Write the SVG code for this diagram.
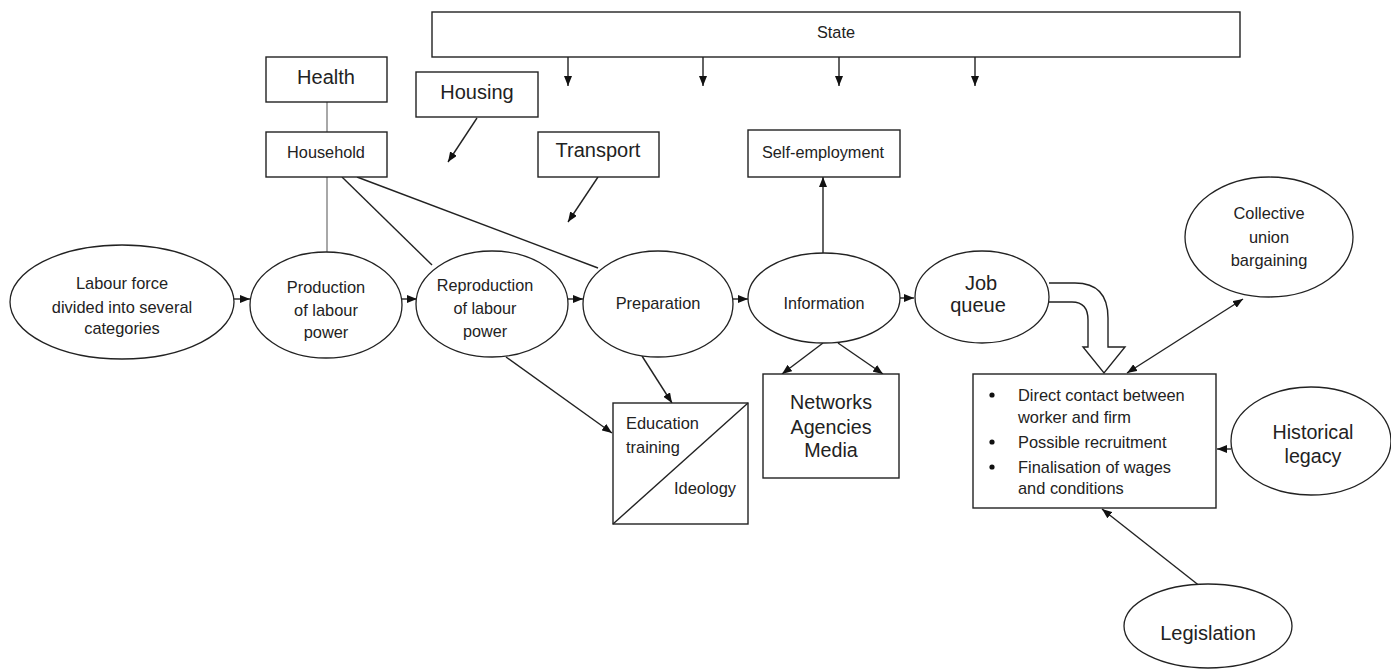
<svg xmlns="http://www.w3.org/2000/svg" width="1391" height="670" viewBox="0 0 1391 670">
<style>
  .box { fill: #fff; stroke: #222; stroke-width: 1.4; }
  .ell { fill: #fff; stroke: #222; stroke-width: 1.3; }
  .ln { stroke: #222; stroke-width: 1.4; fill: none; }
  .gray { stroke: #a8a8a8; stroke-width: 2; fill: none; }
  text { font-family: "Liberation Sans", Arial, sans-serif; fill: #222; }
  .c { text-anchor: middle; }
</style>
<defs>
  <marker id="arr" markerWidth="10" markerHeight="8" refX="10" refY="4" orient="auto" markerUnits="userSpaceOnUse">
    <path d="M0,0 L10,4 L0,8 z" fill="#111"/>
  </marker>
  <marker id="arrS" markerWidth="10" markerHeight="8" refX="0" refY="4" orient="auto" markerUnits="userSpaceOnUse">
    <path d="M10,0 L0,4 L10,8 z" fill="#111"/>
  </marker>
</defs>

<g id="connectors">
  <!-- State arrows -->
  <line class="ln" x1="568" y1="57" x2="568" y2="86" marker-end="url(#arr)"/>
  <line class="ln" x1="703" y1="57" x2="703" y2="86" marker-end="url(#arr)"/>
  <line class="ln" x1="839" y1="57" x2="839" y2="86" marker-end="url(#arr)"/>
  <line class="ln" x1="975" y1="57" x2="975" y2="86" marker-end="url(#arr)"/>
  <!-- Health - Household - Production -->
  <line class="gray" x1="327" y1="102" x2="327" y2="132"/>
  <line class="gray" x1="327" y1="177" x2="327" y2="252"/>
  <!-- Household to Reproduction and Preparation -->
  <line class="ln" x1="342" y1="177" x2="432" y2="265"/>
  <line class="ln" x1="357" y1="177" x2="598" y2="268"/>
  <!-- Housing / Transport arrows -->
  <line class="ln" x1="477" y1="118" x2="448" y2="162" marker-end="url(#arr)"/>
  <line class="ln" x1="598" y1="177" x2="568" y2="222" marker-end="url(#arr)"/>
  <!-- Main row -->
  <line class="ln" x1="234" y1="299" x2="250" y2="299" marker-end="url(#arr)"/>
  <line class="ln" x1="402" y1="299" x2="417" y2="299" marker-end="url(#arr)"/>
  <line class="ln" x1="568" y1="299" x2="583" y2="299" marker-end="url(#arr)"/>
  <line class="ln" x1="733" y1="299" x2="748" y2="299" marker-end="url(#arr)"/>
  <line class="ln" x1="900" y1="298" x2="914" y2="298" marker-end="url(#arr)"/>
  <!-- Information to Self-employment -->
  <line class="ln" x1="823" y1="253" x2="823" y2="177" marker-end="url(#arr)"/>
  <!-- Information to Networks -->
  <line class="ln" x1="823" y1="343" x2="782" y2="374" marker-end="url(#arr)"/>
  <line class="ln" x1="838" y1="343" x2="883" y2="374" marker-end="url(#arr)"/>
  <!-- To Education -->
  <line class="ln" x1="642" y1="356" x2="672" y2="403" marker-end="url(#arr)"/>
  <line class="ln" x1="506" y1="357" x2="612" y2="433" marker-end="url(#arr)"/>
  <!-- Hollow arrow from Job queue -->
  <path class="ln" fill="#fff" d="M1049,283 L1075,283 Q1108,283 1108,318 L1108,347 L1125,347 L1104,373 L1083,347 L1088,347 L1088,320 Q1088,302 1072,302 L1049,302"/>
  <!-- Collective union bargaining double-headed -->
  <line class="ln" x1="1127" y1="373" x2="1243" y2="299" marker-start="url(#arrS)" marker-end="url(#arr)"/>
  <!-- Historical legacy -->
  <line class="ln" x1="1231" y1="449" x2="1217" y2="449" marker-end="url(#arr)"/>
  <!-- Legislation -->
  <line class="ln" x1="1215" y1="598" x2="1102" y2="509" marker-end="url(#arr)"/>
</g>

<g id="state">
  <rect class="box" x="432" y="12" width="808" height="45"/>
  <text class="c" x="836" y="38" font-size="16.3">State</text>
</g>
<g id="health">
  <rect class="box" x="266" y="57" width="121" height="45"/>
  <text class="c" x="326" y="84" font-size="20">Health</text>
</g>
<g id="housing">
  <rect class="box" x="416" y="72" width="122" height="45"/>
  <text class="c" x="477" y="99" font-size="20">Housing</text>
</g>
<g id="household">
  <rect class="box" x="266" y="132" width="121" height="45"/>
  <text class="c" x="326" y="158" font-size="16.3">Household</text>
</g>
<g id="transport">
  <rect class="box" x="538" y="132" width="121" height="45"/>
  <text class="c" x="598" y="157" font-size="20">Transport</text>
</g>
<g id="self-employment">
  <rect class="box" x="748" y="130" width="152" height="47"/>
  <text class="c" x="823" y="158" font-size="16.3">Self-employment</text>
</g>
<g id="labour-force">
  <ellipse class="ell" cx="122" cy="302" rx="112" ry="57"/>
  <text class="c" x="122" y="289" font-size="16.4">Labour force</text>
  <text class="c" x="122" y="313" font-size="16.4">divided into several</text>
  <text class="c" x="122" y="334" font-size="16.4">categories</text>
</g>
<g id="production">
  <ellipse class="ell" cx="326" cy="305" rx="76" ry="53"/>
  <text class="c" x="326" y="293" font-size="16.4">Production</text>
  <text class="c" x="326" y="316" font-size="16.4">of labour</text>
  <text class="c" x="326" y="338" font-size="16.4">power</text>
</g>
<g id="reproduction">
  <ellipse class="ell" cx="492" cy="304" rx="76" ry="53"/>
  <text class="c" x="485" y="291" font-size="16.2">Reproduction</text>
  <text class="c" x="485" y="314" font-size="16.2">of labour</text>
  <text class="c" x="485" y="337" font-size="16.2">power</text>
</g>
<g id="preparation">
  <ellipse class="ell" cx="658" cy="304" rx="75" ry="53"/>
  <text class="c" x="658" y="309" font-size="16.4">Preparation</text>
</g>
<g id="information">
  <ellipse class="ell" cx="824" cy="298" rx="76" ry="45"/>
  <text class="c" x="824" y="309" font-size="16.2">Information</text>
</g>
<g id="job-queue">
  <ellipse class="ell" cx="982" cy="297" rx="67" ry="46"/>
  <text class="c" x="981" y="290" font-size="20">Job</text>
  <text class="c" x="978" y="312" font-size="20">queue</text>
</g>
<g id="collective">
  <ellipse class="ell" cx="1269" cy="237" rx="84" ry="60"/>
  <text class="c" x="1269" y="219" font-size="16.4">Collective</text>
  <text class="c" x="1269" y="243" font-size="16.4">union</text>
  <text class="c" x="1269" y="266" font-size="16.4">bargaining</text>
</g>
<g id="networks">
  <rect class="box" x="763" y="374" width="136" height="104"/>
  <text class="c" x="831" y="409" font-size="19.7">Networks</text>
  <text class="c" x="831" y="434" font-size="19.7">Agencies</text>
  <text class="c" x="831" y="457" font-size="19.7">Media</text>
</g>
<g id="education">
  <rect class="box" x="613" y="403" width="135" height="121"/>
  <line class="ln" x1="613" y1="524" x2="748" y2="403"/>
  <text x="626" y="429" font-size="16.4">Education</text>
  <text x="626" y="453" font-size="16.4">training</text>
  <text x="674" y="494" font-size="16.4">Ideology</text>
</g>
<g id="contact">
  <rect class="box" x="973" y="374" width="243" height="134"/>
  <circle cx="992" cy="395" r="2.6" fill="#111"/>
  <circle cx="992" cy="442" r="2.6" fill="#111"/>
  <circle cx="992" cy="467" r="2.6" fill="#111"/>
  <text x="1018" y="401" font-size="16.4">Direct contact between</text>
  <text x="1018" y="423" font-size="16.4">worker and firm</text>
  <text x="1018" y="448" font-size="16.4">Possible recruitment</text>
  <text x="1018" y="473" font-size="16.4">Finalisation of wages</text>
  <text x="1018" y="494" font-size="16.4">and conditions</text>
</g>
<g id="historical">
  <ellipse class="ell" cx="1311" cy="441" rx="80" ry="54"/>
  <text class="c" x="1313" y="439" font-size="19.7">Historical</text>
  <text class="c" x="1313" y="463" font-size="19.7">legacy</text>
</g>
<g id="legislation">
  <ellipse class="ell" cx="1208" cy="626" rx="84" ry="42"/>
  <text class="c" x="1208" y="640" font-size="20">Legislation</text>
</g>
</svg>
